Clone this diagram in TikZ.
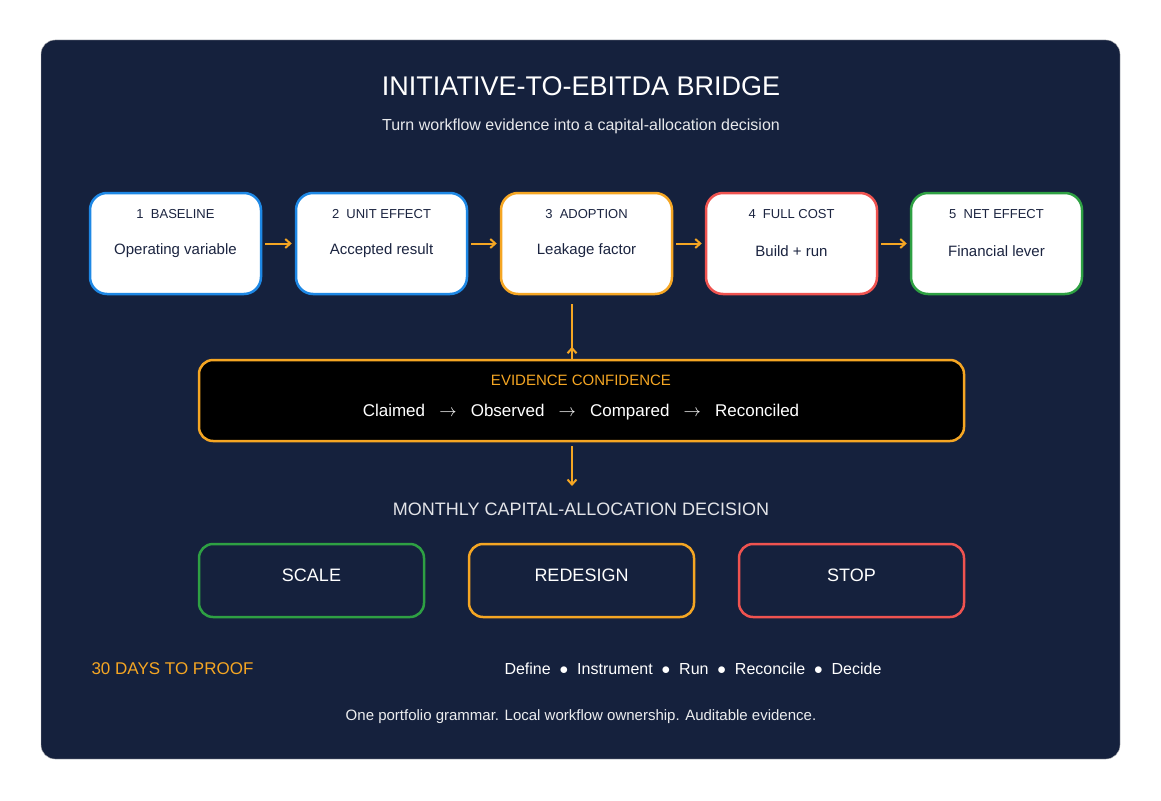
\documentclass[tikz,border=0pt]{standalone}
\usepackage{fontspec}
\setmainfont{Liberation Sans}
\usetikzlibrary{arrows.meta,positioning}
\definecolor{panel}{HTML}{15213D}
\definecolor{cblue}{HTML}{1E88E5}
\definecolor{corange}{HTML}{F5A623}
\definecolor{cred}{HTML}{EF5350}
\definecolor{cgreen}{HTML}{2EA043}
\definecolor{ink}{HTML}{1B2440}
\tikzset{
    stagebox/.style={draw=#1, line width=2.5pt, fill=white, rounded corners=17pt,
        minimum width=171pt, minimum height=101pt, inner sep=0pt},
    decisionbox/.style={draw=#1, line width=2.5pt, rounded corners=14pt,
        minimum width=225pt, minimum height=73pt, inner sep=0pt},
    flow/.style={corange, line width=2pt, -{Straight Barb[length=5pt,width=9pt]}},
}
\begin{document}
\begin{tikzpicture}[x=1pt, y=-1pt, every node/.style={font=\fontsize{15}{18}\selectfont}]
    % Background and panel
    \useasboundingbox[fill=white] (0,0) rectangle (1161,800);
    \draw[fill=panel, draw=gray!50, rounded corners=14pt] (41,40) rectangle (1120,759);

    % Title
    \node[white, font=\fontsize{27}{32}\selectfont] (title) at (581,86) {INITIATIVE-TO-EBITDA BRIDGE};
    \node[white!90!panel, font=\fontsize{16}{19}\selectfont] (subtitle) at (581,126) {Turn workflow evidence into a capital-allocation decision};

    % Stages
    \foreach \i/\x/\c/\head/\body in {1/175.5/cblue/BASELINE/Operating variable,
        2/381.5/cblue/UNIT EFFECT/Accepted result,
        3/586.5/corange/ADOPTION/Leakage factor,
        4/791.5/cred/FULL COST/Build + run,
        5/996.5/cgreen/NET EFFECT/Financial lever} {
        \node[stagebox=\c] (s\i) at (\x,243.5) {};
        \node[ink, font=\fontsize{13}{15}\selectfont] (h\i) at (\x,214) {\i\ \ \head};
        \node[ink] (b\i) at (\x,251) {\body};
    }
    \foreach [remember=\j as \prev (initially 1)] \j in {2,...,5}
        \draw[flow] ([xshift=3pt]s\prev.east) -- ([xshift=-3pt]s\j.west);

    % Evidence confidence
    \node[draw=corange, line width=2.5pt, fill=black, rounded corners=14pt,
        minimum width=765pt, minimum height=81pt] (evidence) at (581.5,400.5) {};
    \node[corange] (evhead) at (581,380) {EVIDENCE CONFIDENCE};
    \node[white, font=\fontsize{17}{20}\selectfont] (evbody) at (581,412)
        {Claimed \ \ $\rightarrow$ \ \ Observed \ \ $\rightarrow$ \ \ Compared \ \ $\rightarrow$ \ \ Reconciled};
    \coordinate (top) at (572,304);
    \coordinate (mid) at (572,486);
    \draw[flow] (top) -- (top |- evidence.north) ++(0,-12);
    \draw[flow] (572,446) -- (mid);

    % Decision
    \node[white!88!panel, font=\fontsize{18}{21}\selectfont] (decision) at (581,509) {MONTHLY CAPITAL-ALLOCATION DECISION};
    \foreach \n/\x/\c/\t in {scale/311.5/cgreen/SCALE, redesign/581.5/corange/REDESIGN, stop/851.5/cred/STOP} {
        \node[decisionbox=\c] (\n) at (\x,580.5) {};
        \node[white, font=\fontsize{18}{21}\selectfont] (\n text) at (\x,575) {\t};
    }

    % Bottom
    \node[corange, anchor=west, font=\fontsize{17}{20}\selectfont] (days) at (88,669) {30 DAYS TO PROOF};
    \node[white, font=\fontsize{16}{19}\selectfont] (steps) at (693,669)
        {Define \ $\bullet$ \ Instrument \ $\bullet$ \ Run \ $\bullet$ \ Reconcile \ $\bullet$ \ Decide};
    \node[white!92!panel] (footer) at (581,717) {One portfolio grammar. Local workflow ownership. Auditable evidence.};
\end{tikzpicture}
\end{document}
